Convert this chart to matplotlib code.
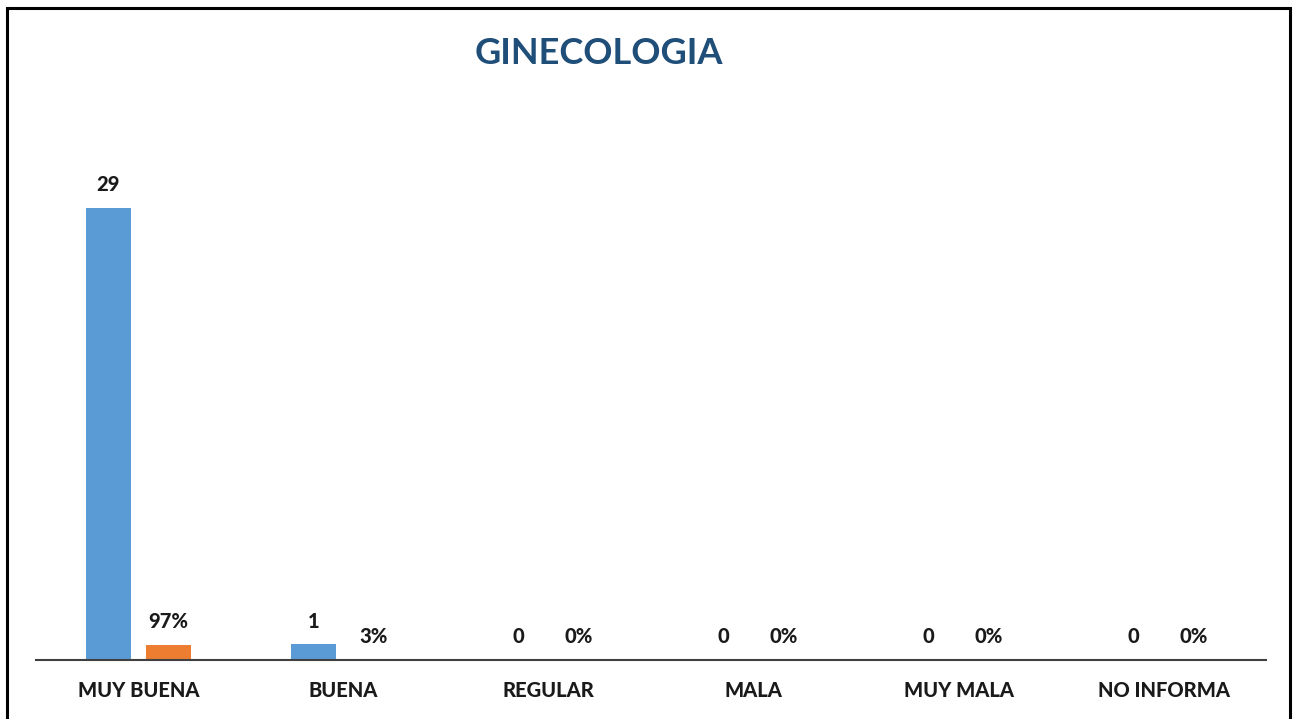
import matplotlib
matplotlib.use("Agg")
import matplotlib.pyplot as plt
from matplotlib.patches import Rectangle
import numpy as np

categories = ["MUY BUENA", "BUENA", "REGULAR", "MALA", "MUY MALA", "NO INFORMA"]
counts = [29, 1, 0, 0, 0, 0]
percents = [0.97, 0.03, 0.0, 0.0, 0.0, 0.0]
title = "GINECOLOGIA"

plt.rcParams['font.family'] = ['Lato', 'DejaVu Sans']

W, H = 1298, 719
fig = plt.figure(figsize=(W / 100, H / 100), dpi=100)
ax_left, ax_right = 36 / W, 1266 / W
ax_bottom = 1 - 660 / H
ax_top = 1 - 150 / H
ax = fig.add_axes([ax_left, ax_bottom, ax_right - ax_left, ax_top - ax_bottom])

x = np.arange(len(categories))
w = 0.22
off = 0.147
blue = "#5B9BD5"
orange = "#ED7D31"
ax.bar(x - off, counts, width=w, color=blue)
ax.bar(x + off, percents, width=w, color=orange)

WT = 900
lab_kw = dict(ha="center", va="bottom", fontsize=14.5, fontweight=WT,
              fontstyle="normal", color="#1a1a1a")
for xi, v in zip(x, counts):
    ax.annotate(f"{v}", (xi - off, v), xytext=(0, 10), textcoords="offset points", **lab_kw)
for xi, v in zip(x, percents):
    ax.annotate(f"{v:.0%}", (xi + off, v), xytext=(0, 10), textcoords="offset points", **lab_kw)

ax.set_xlim(-0.5, len(categories) - 0.5)
ax.set_ylim(0, 32.72)
ax.set_xticks(x)
ax.set_xticklabels(categories, fontsize=14.5, fontweight=WT, fontstyle="normal",
                   color="#1a1a1a")
ax.tick_params(axis="x", length=0, pad=15)
ax.set_yticks([])
for s in ["top", "right", "left"]:
    ax.spines[s].set_visible(False)
ax.spines["bottom"].set_color("#404040")
ax.spines["bottom"].set_linewidth(1.5)

fig.text(599 / W, 1 - 53 / H, title, ha="center", va="center", fontsize=26,
         fontweight="bold", fontstyle="normal", color="#1F4E79")

fig.patches.append(Rectangle((7 / W, -0.02), (1290 - 7) / W, 1 - 8 / H + 0.02,
                             transform=fig.transFigure, fill=False,
                             edgecolor="black", linewidth=2.2))

fig.savefig("out.png", dpi=100, facecolor="white")
